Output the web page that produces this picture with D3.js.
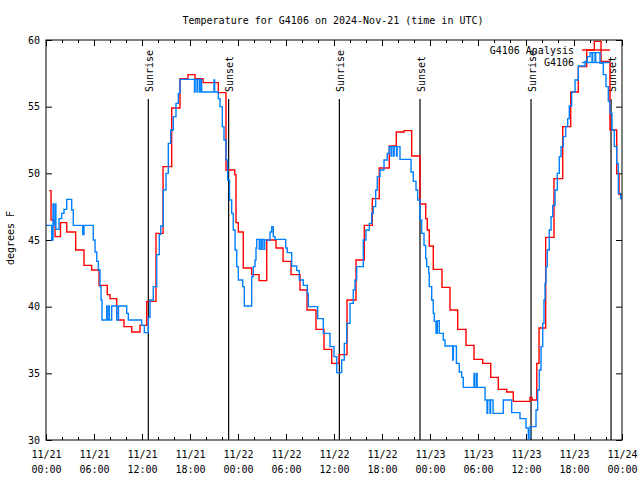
<!DOCTYPE html>
<html><head><meta charset="utf-8">
<script src="https://cdn.jsdelivr.net/npm/d3@7"></script>
<style>body{margin:0;background:#fff}svg{display:block}</style>
</head><body>
<svg id="c" width="640" height="480"></svg>
<script>
// ---- data (hours since 2024-11-21 00:00 UTC) ----
const obsHours=[0,0.71,0.88,0.96,1.16,1.24,1.63,1.96,2.25,2.59,3.21,3.41,4.59,4.75,5.91,6.13,6.34,6.54,6.75,6.88,7.0,7.59,7.65,7.85,7.91,8.21,8.84,9.06,10.09,10.29,11.96,12.29,12.79,13.0,13.41,13.84,14.16,14.34,14.66,15.0,15.29,15.59,15.91,16.25,16.54,16.75,18.56,18.64,18.88,18.96,19.2,19.28,19.46,21.0,21.08,21.54,21.75,22.04,22.25,22.5,22.71,22.94,23.21,23.41,23.63,23.84,24.04,24.59,24.79,25.71,25.91,26.13,26.25,26.34,26.66,26.74,26.94,27.02,27.25,27.33,28.0,28.21,28.41,28.63,29.96,30.16,30.71,31.34,31.66,32.16,32.66,32.79,33.96,34.66,35.5,36.0,36.34,36.96,37.29,37.59,38.0,38.41,38.63,38.84,39.66,40.0,40.41,40.71,40.91,41.21,41.41,41.75,42.25,42.66,42.91,43.13,43.21,43.44,43.52,43.81,43.89,44.25,45.63,45.91,46.25,46.46,46.75,46.96,47.25,47.46,47.59,47.84,47.91,48.21,48.41,48.54,48.75,48.91,49.16,49.66,49.88,50.84,50.92,51.3,51.66,51.96,52.16,53.5,53.58,53.81,53.89,54.88,55.13,55.21,55.5,55.58,55.88,57.16,58.21,59.25,60.0,60.29,60.5,61.25,61.46,61.66,61.88,62.09,62.25,62.38,62.5,62.66,62.91,63.13,63.34,63.63,63.91,64.16,64.38,64.66,64.96,65.21,65.41,65.71,66.13,66.54,67.38,67.66,68.0,68.25,68.33,68.63,68.71,69.25,69.66,70.0,70.29,70.5,70.75,71.04,71.34,71.54,71.84,72];
const obsTemps=[46.1,45.0,47.7,46.1,47.7,45.8,46.6,47.0,47.3,48.05,47.25,46.1,45.4,46.1,45.0,44.1,43.4,42.75,41.5,40.5,39.0,40.05,39.0,40.05,39.0,40.05,39.0,40.05,39.5,39.0,38.6,38.05,39.2,40.5,41.5,43.9,45.4,46.05,48.75,50.0,52.25,53.25,54.25,55.25,56.0,57.05,56.1,57.05,56.1,57.05,56.1,57.05,56.1,57.0,56.1,55.6,55.0,53.5,52.5,51.0,49.5,48.0,47.0,45.75,44.25,43.0,42.0,41.5,40.05,42.25,43.0,43.5,44.4,45.05,44.3,45.05,44.3,45.05,44.3,45.0,45.6,46.0,45.25,45.05,44.4,44.05,43.05,42.7,42.0,41.6,41.0,40.0,39.1,38.0,37.0,36.25,35.05,36.0,37.25,38.75,40.25,41.25,42.0,43.0,45.0,45.75,46.25,47.0,47.5,48.75,49.75,50.25,51.0,51.5,52.0,51.3,52.0,51.3,52.0,51.3,52.0,51.05,50.1,49.4,48.75,48.0,46.5,45.5,44.6,43.6,43.0,42.5,41.5,40.5,39.5,38.9,38.0,38.95,38.0,37.5,37.05,36.0,37.05,35.75,35.1,34.7,33.95,35.0,33.95,35.0,33.95,33.0,32.0,33.0,32.0,33.0,32.0,33.0,32.05,31.6,30.9,30.1,31.0,32.25,33.75,35.25,37.0,38.75,40.5,41.75,43.0,44.25,45.75,46.75,47.6,48.75,50.0,51.25,52.0,52.75,53.5,54.1,55.05,56.1,57.0,58.05,58.4,58.75,59.05,58.4,59.05,58.4,59.05,58.25,57.4,56.5,55.4,54.5,53.25,52.0,50.75,48.5,48.1,48.1];

const anaHours=[0.41,0.63,1.13,1.81,2.59,3.71,4.75,5.71,6.63,7.66,8.0,8.84,9.04,9.75,10.71,11.75,12.59,13.75,14.63,15.71,16.75,17.75,18.63,19.63,21.54,22.5,23.59,23.75,24.04,24.66,25.71,26.63,27.59,28.75,29.63,30.63,31.75,32.63,33.75,34.75,35.71,36.63,37.63,38.75,39.79,40.79,41.66,42.91,43.79,44.75,45.71,46.75,47.46,47.66,47.91,48.41,49.5,50.5,51.46,52.5,53.5,54.59,55.59,56.54,57.59,58.41,60.5,60.75,61.35,61.63,62.46,63.5,64.59,65.59,66.54,67.59,68.54,69.38,70.5,71.34,71.63,72];
const anaTemps=[48.7,46.5,45.25,46.3,45.6,44.25,43.1,42.75,41.6,40.9,40.6,39.5,39.0,38.5,38.1,38.6,40.4,45.5,50.5,54.9,57.1,57.4,57.1,56.8,56.05,50.25,49.9,46.3,45.6,42.9,42.4,41.95,45.0,44.4,43.4,42.4,41.25,39.75,38.3,36.8,35.75,36.4,40.5,43.5,46.1,48.1,50.4,52.05,53.1,53.2,51.3,47.7,46.6,45.75,44.55,42.8,41.45,39.75,38.3,37.1,36.05,35.75,34.7,33.8,33.6,32.9,33.2,33.0,35.75,38.4,45.2,49.6,53.5,56.1,58.0,59.25,59.9,58.4,53.25,50.0,48.4,48.4];

const sunriseHours=[12.79,36.67,60.63];
const sunsetHours=[22.83,46.75,70.63];
const yTicks=[30,35,40,45,50,55,60];
const seriesNames=["G4106 Analysis","G4106"];
const seriesColors=["#ff0000","#0080ff"];
const titleText="Temperature for G4106 on 2024-Nov-21 (time in UTC)";
const yLabel="degrees F";

// ---- layout ----
const FONT="'DejaVu Sans Mono', 'Liberation Mono', monospace";
const L=46,R=622,T=40,B=440;
const t0=Date.UTC(2024,10,21);
const toDate=h=>new Date(t0+h*3600000);
const x=d3.scaleUtc().domain([toDate(0),toDate(72)]).range([L,R]);
const y=d3.scaleLinear().domain([30,60]).range([B,T]);
const svg=d3.select("#c").style("font-family",FONT);

svg.append("rect").attr("width",640).attr("height",480).attr("fill","#fff");

// title
svg.append("text").attr("x",333).attr("y",24).attr("text-anchor","middle")
  .attr("font-size",10).attr("fill","#000").text(titleText);

// y label
svg.append("text").attr("transform","translate(14,238) rotate(-90)")
  .attr("text-anchor","middle").attr("font-size",10).text(yLabel);

// clip
svg.append("clipPath").attr("id","clip").append("rect")
  .attr("x",L).attr("y",T).attr("width",R-L).attr("height",B-T);

const fmtD=d3.utcFormat("%m/%d"), fmtT=d3.utcFormat("%H:%M");
const major=d3.utcHour.every(6), minor=d3.utcHour.every(2);

// bottom axes
svg.append("g").attr("transform",`translate(0,${B})`)
  .call(d3.axisBottom(x).ticks(minor).tickSize(-3).tickFormat(""));
const gb=svg.append("g").attr("transform",`translate(0,${B})`)
  .call(d3.axisBottom(x).ticks(major).tickSize(-6).tickPadding(11).tickFormat(fmtD));
gb.selectAll(".tick text").each(function(d){
  const s=d3.select(this); s.text(null);
  s.append("tspan").attr("x",0).text(fmtD(d));
  s.append("tspan").attr("x",0).attr("dy",15).text(fmtT(d));
});
// top axes
svg.append("g").attr("transform",`translate(0,${T})`)
  .call(d3.axisTop(x).ticks(minor).tickSize(-3).tickFormat(""));
svg.append("g").attr("transform",`translate(0,${T})`)
  .call(d3.axisTop(x).ticks(major).tickSize(-6).tickFormat(""));
// y axes
svg.append("g").attr("transform",`translate(${L},0)`)
  .call(d3.axisLeft(y).tickValues(yTicks).tickSize(-6).tickPadding(6).tickFormat(d3.format("d")));
svg.append("g").attr("transform",`translate(${R},0)`)
  .call(d3.axisRight(y).tickValues(yTicks).tickSize(-6).tickFormat(""));
svg.selectAll(".domain").remove();
svg.selectAll(".tick line").attr("stroke","#000");
svg.selectAll(".tick text").attr("font-family",FONT).attr("font-size",10).attr("fill","#000");

// sunrise / sunset
const events=[...sunriseHours.map(h=>({h,l:"Sunrise"})),...sunsetHours.map(h=>({h,l:"Sunset"}))];
const ge=svg.append("g");
ge.selectAll("line").data(events).join("line")
  .attr("x1",d=>x(toDate(d.h))).attr("x2",d=>x(toDate(d.h)))
  .attr("y1",99).attr("y2",B).attr("stroke","#000").attr("stroke-width",1.2);
ge.selectAll("text").data(events).join("text")
  .attr("transform",d=>`translate(${x(toDate(d.h))+4.5},92) rotate(-90)`)
  .attr("font-size",10).attr("fill","#000").text(d=>d.l);

// series
const line=d3.line().x(d=>x(toDate(d.h))).y(d=>y(d.t)).curve(d3.curveStepAfter);
const anaData=anaHours.map((h,i)=>({h,t:anaTemps[i]}));
const obsData=obsHours.map((h,i)=>({h,t:obsTemps[i]}));
const gs=svg.append("g").attr("clip-path","url(#clip)");
gs.append("path").datum(anaData).attr("d",line).attr("fill","none")
  .attr("stroke",seriesColors[0]).attr("stroke-width",1.4);
gs.append("path").datum(obsData).attr("d",line).attr("fill","none")
  .attr("stroke",seriesColors[1]).attr("stroke-width",1.4);

// legend
seriesNames.forEach((n,i)=>{
  const ly=50+i*12.5;
  svg.append("text").attr("x",574).attr("y",ly+3.5).attr("text-anchor","end")
    .attr("font-size",10).attr("fill","#000").text(n);
  svg.append("line").attr("x1",582).attr("x2",610).attr("y1",ly).attr("y2",ly)
    .attr("stroke",seriesColors[i]).attr("stroke-width",1.4);
});

// frame
svg.append("rect").attr("x",L).attr("y",T).attr("width",R-L).attr("height",B-T)
  .attr("fill","none").attr("stroke","#000").attr("stroke-width",1);
</script>
</body></html>
